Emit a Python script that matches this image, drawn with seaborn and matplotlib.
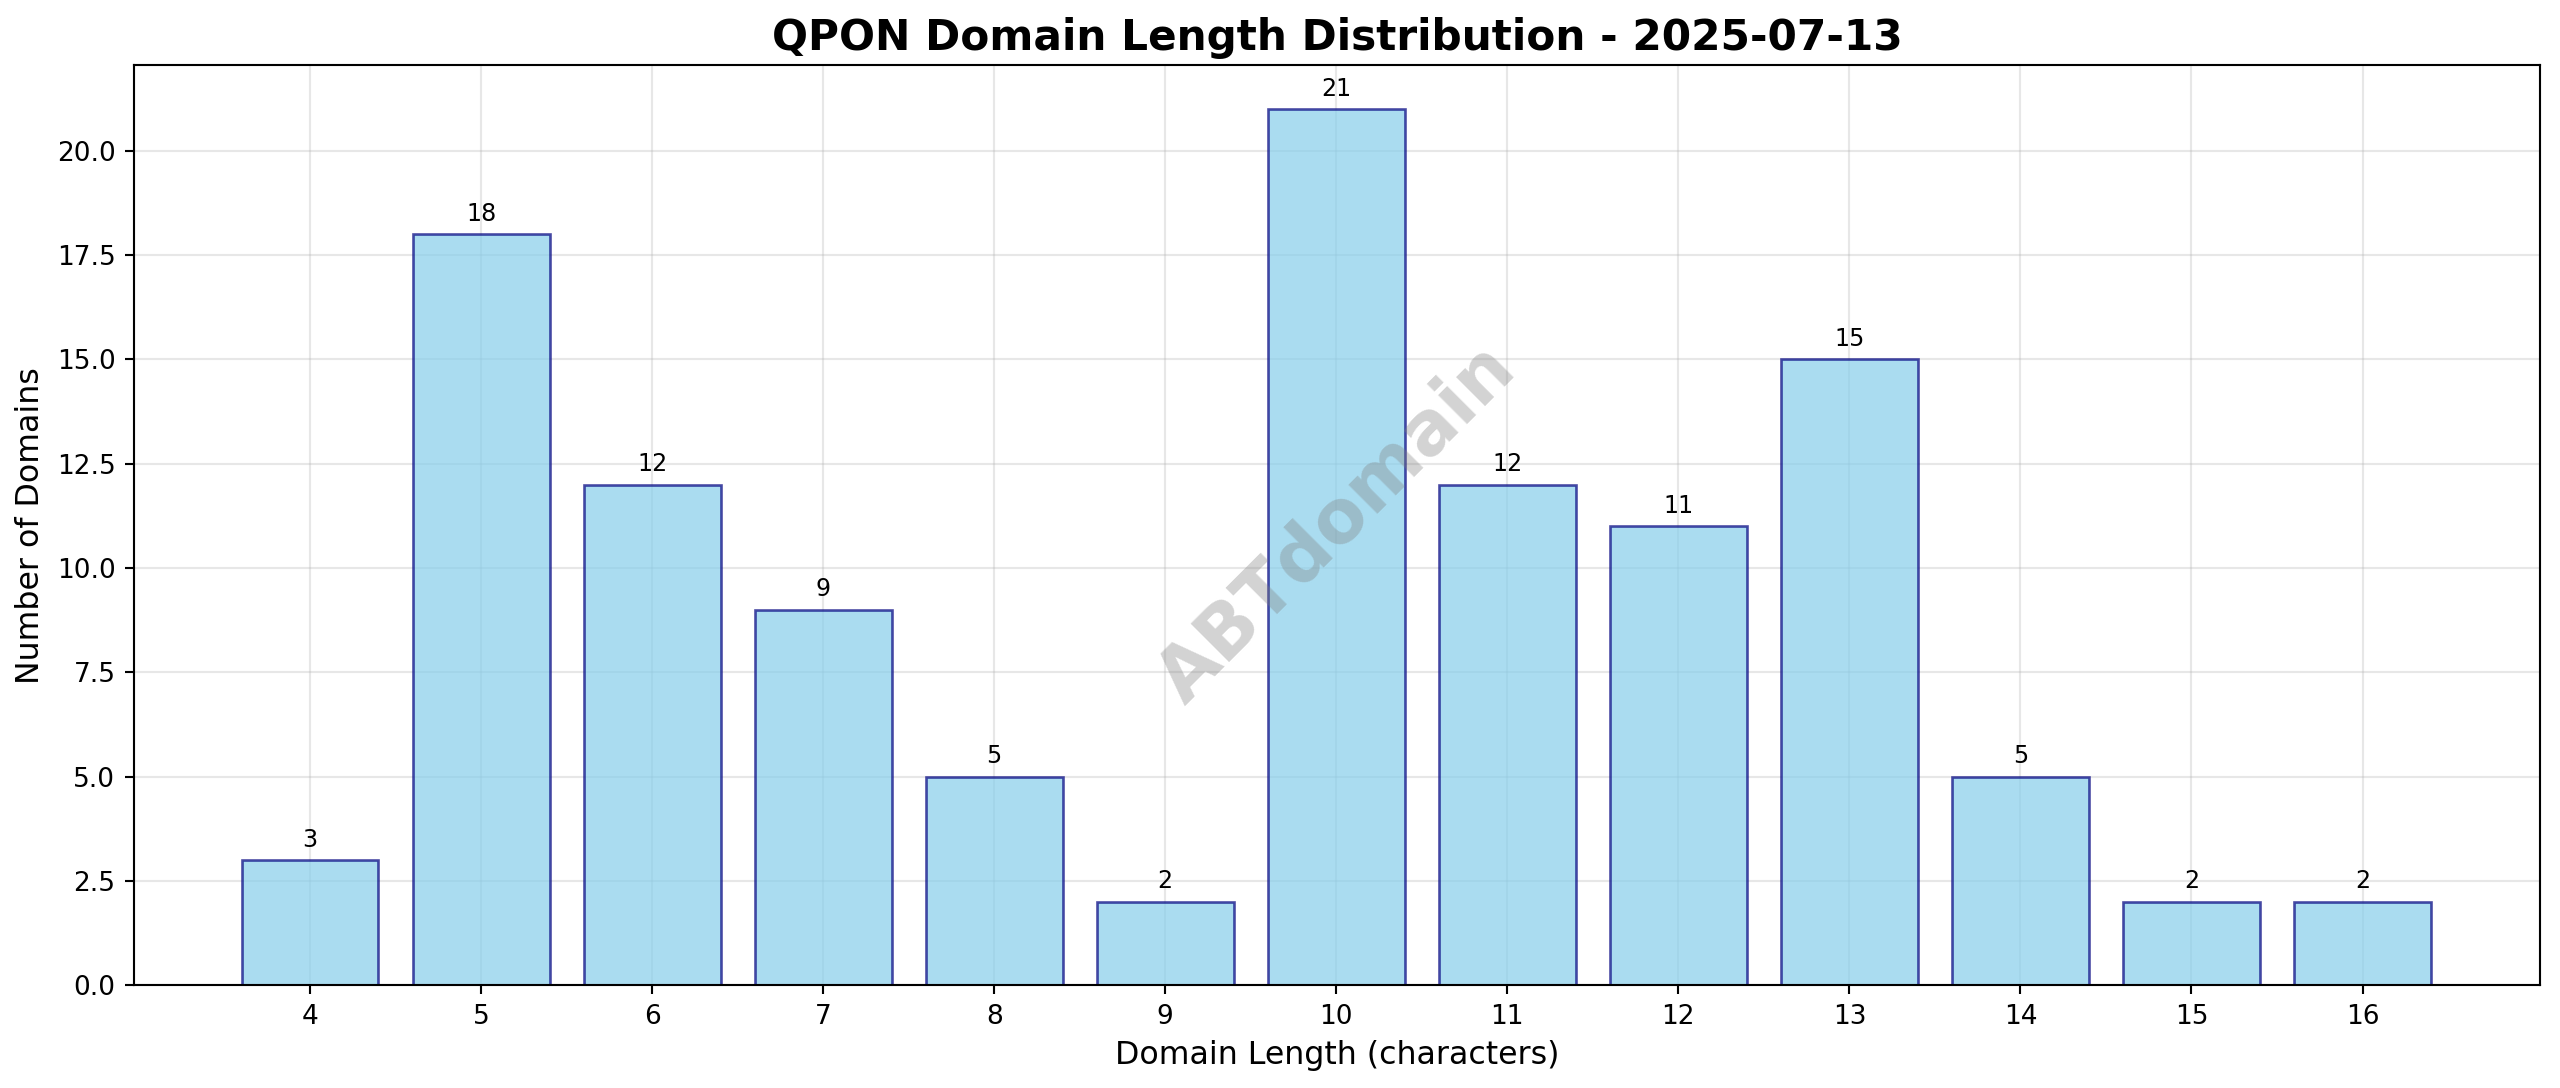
import matplotlib
matplotlib.use("Agg")
import matplotlib.pyplot as plt
import seaborn as sns
import pandas as pd

lengths = [4, 5, 6, 7, 8, 9, 10, 11, 12, 13, 14, 15, 16]
counts = [3, 18, 12, 9, 5, 2, 21, 12, 11, 15, 5, 2, 2]

df = pd.DataFrame({"length": [str(l) for l in lengths], "count": counts})

fig, ax = plt.subplots(figsize=(2560/190, 1088/190), dpi=190)
sns.barplot(data=df, x="length", y="count", color="skyblue", alpha=0.7,
            edgecolor="navy", linewidth=1.0, width=0.8, saturation=1, ax=ax)
for p in ax.patches:
    p.set_edgecolor((0, 0, 0.5, 0.7))
for i, c in enumerate(counts):
    ax.text(i, c + 0.2, str(c), ha="center", va="bottom", fontsize=9)
ax.set_xlim(-1.03, 13.04)
ax.set_ylim(0, 22.05)
ax.grid(True, alpha=0.3)
ax.set_axisbelow(True)
ax.set_title("QPON Domain Length Distribution - 2025-07-13", fontsize=16, fontweight="bold")
ax.set_xlabel("Domain Length (characters)", fontsize=12)
ax.set_ylabel("Number of Domains", fontsize=12)
ax.tick_params(labelsize=10)
ax.text(0.5, 0.5, "ABTdomain", transform=ax.transAxes, fontsize=28, color="gray",
        alpha=0.35, rotation=45, ha="center", va="center", fontweight="bold")
fig.subplots_adjust(left=82/1568, right=1556/1568, top=1-40/666, bottom=1-603/666)
fig.savefig("out.png")
